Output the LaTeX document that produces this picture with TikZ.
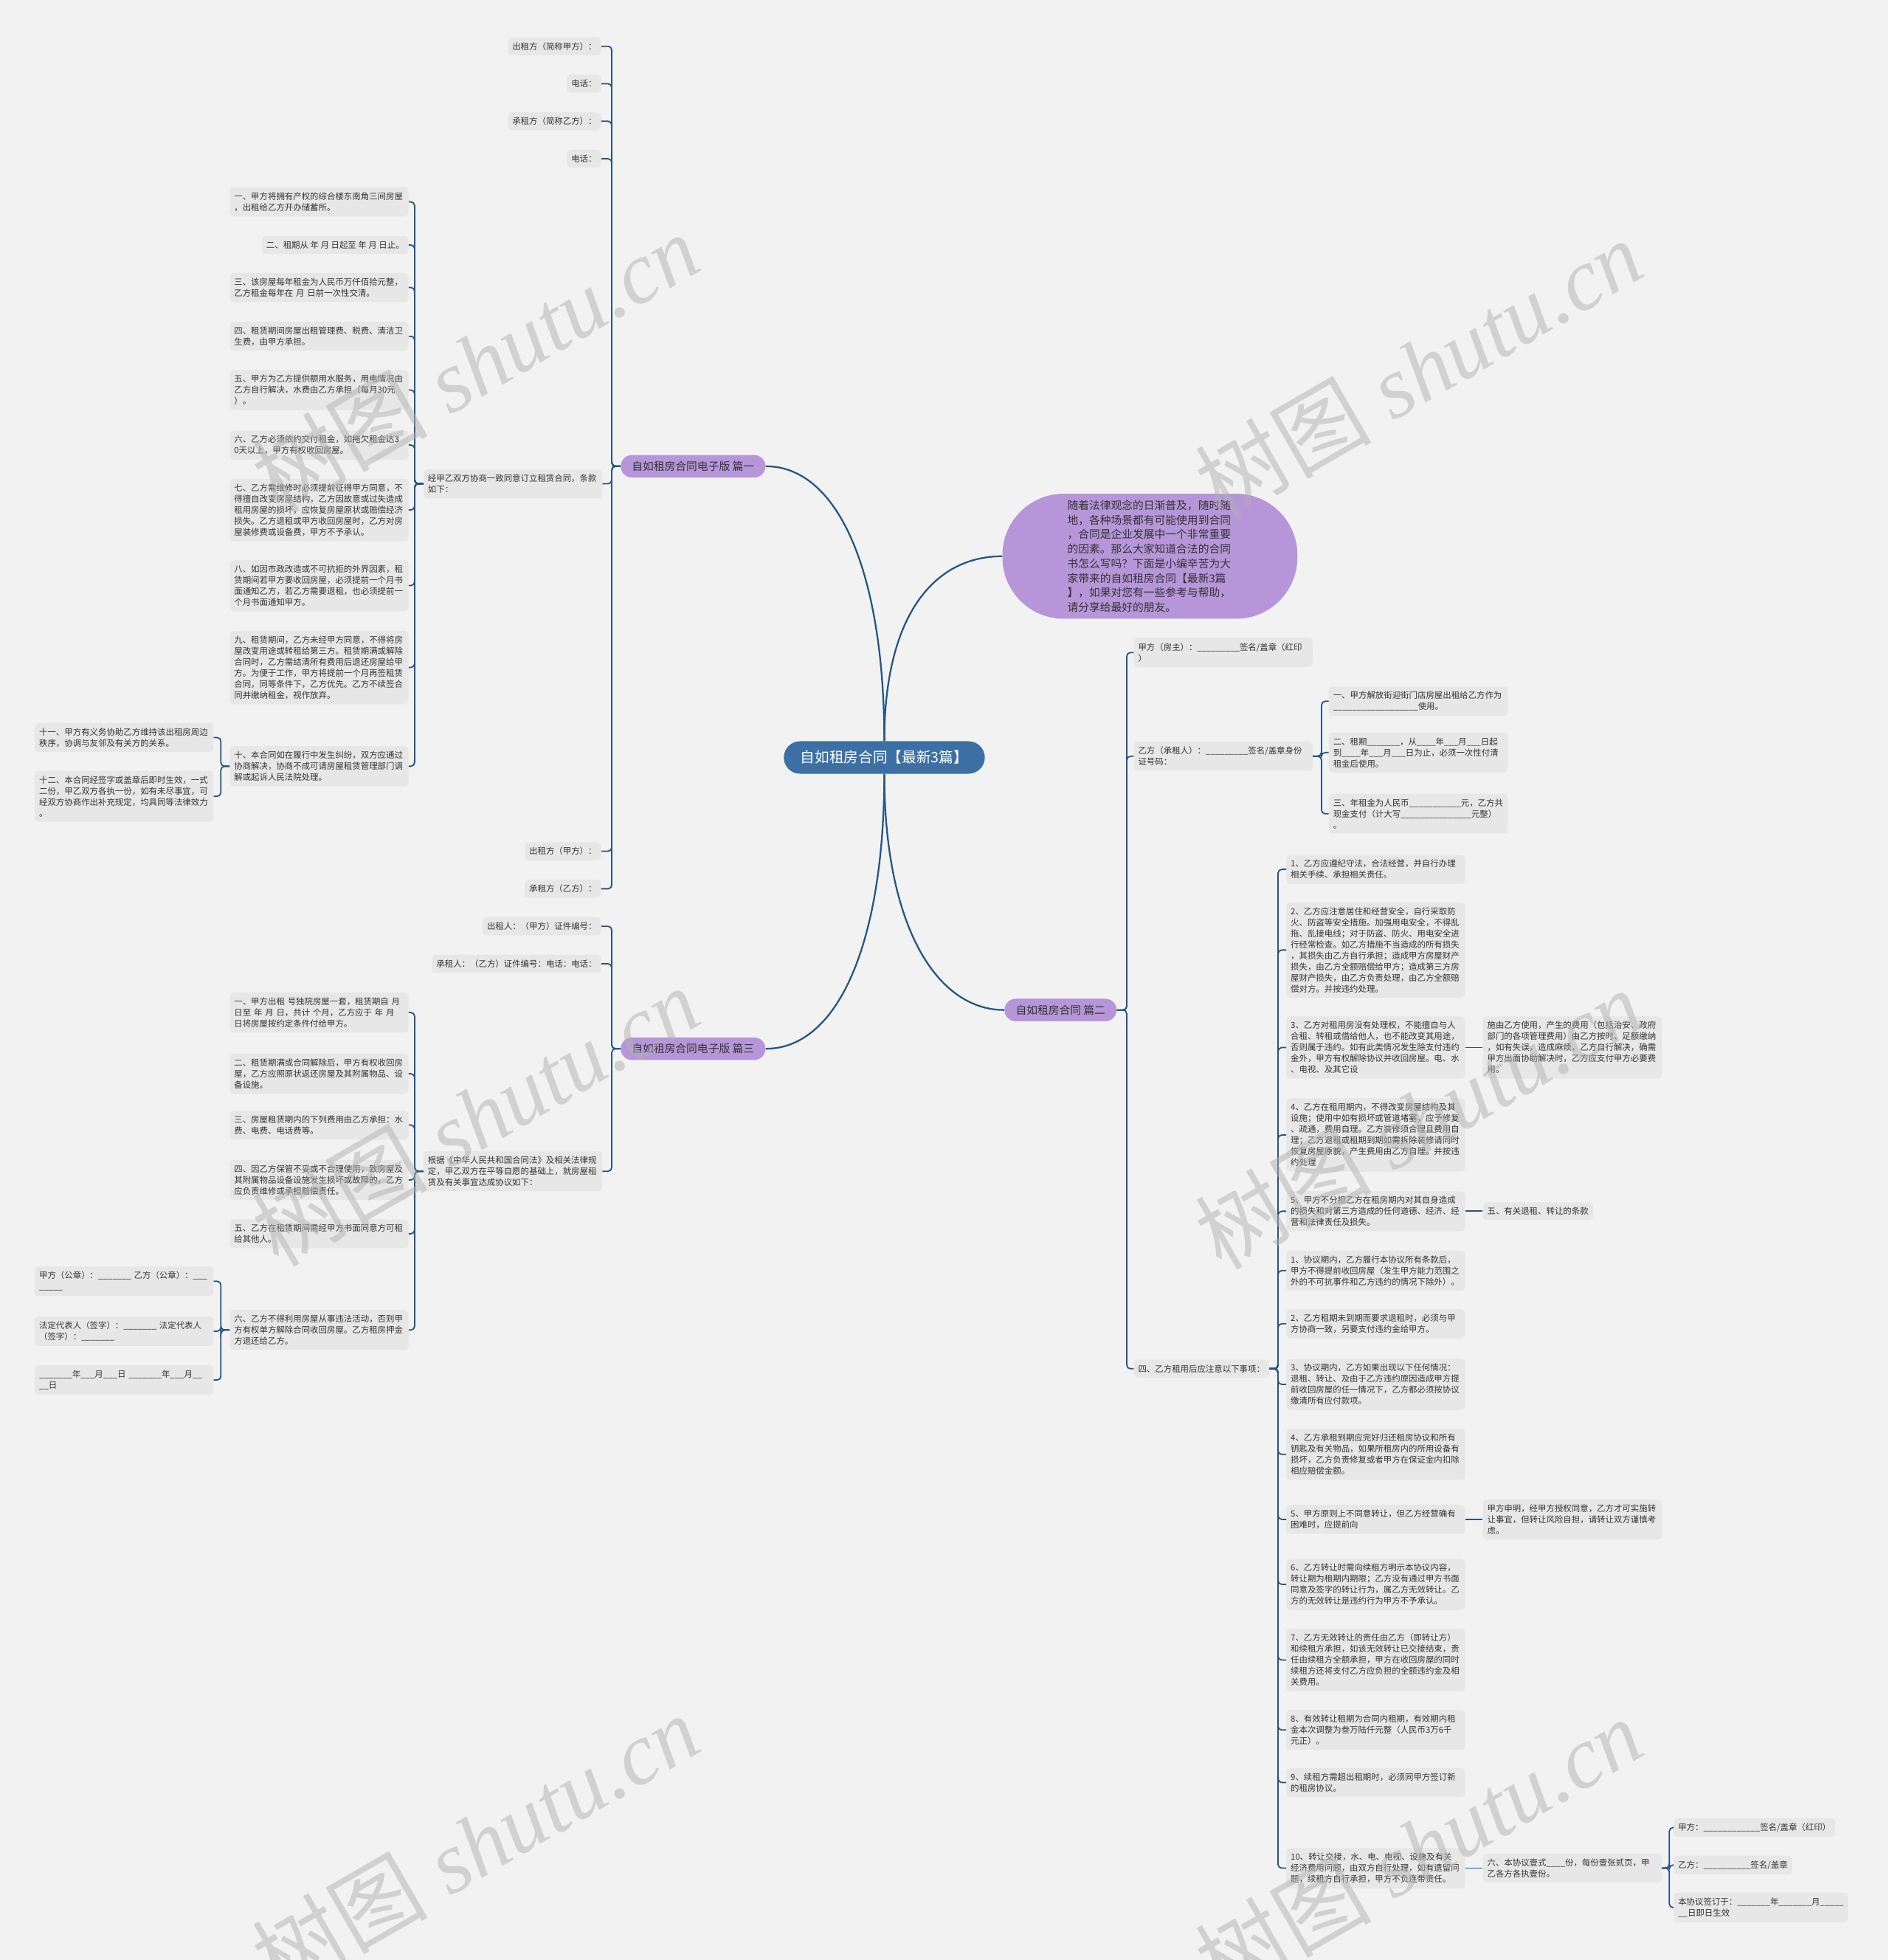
\documentclass[tikz,border=0pt]{standalone}
\usepackage{fontspec}
\setmainfont{Noto Sans CJK SC}
\newfontfamily\wmfont{Liberation Serif}
\newfontfamily\wmcjk{Noto Sans CJK SC}
\usepackage{xcolor}
\usetikzlibrary{positioning}

\definecolor{bgc}{HTML}{F2F2F2}
\definecolor{leafc}{HTML}{E7E7E7}
\definecolor{linkc}{HTML}{245584}
\definecolor{rootc}{HTML}{3C70A4}
\definecolor{purc}{HTML}{B696D9}
\definecolor{txtc}{HTML}{333333}

\newcommand{\leaffont}{\fontsize{9.6}{12.6}\selectfont}
\newcommand{\rootfont}{\fontsize{16.5}{20}\selectfont}
\newcommand{\branchfont}{\fontsize{12.4}{15}\selectfont}
\newcommand{\introfont}{\fontsize{12.4}{16.6}\selectfont}
\newcommand{\blanks}[1]{\foreach \k in {1,...,#1}{\_}}

\begin{document}
\begin{tikzpicture}[
    x=0.05cm, y=-0.05cm,
    every node/.style={font=\leaffont, text=txtc, inner sep=0pt},
    main/.style={draw=linkc, line width=1.9pt},
    link/.style={draw=linkc, line width=1.5pt, rounded corners=0.15cm},
    leaf/.style={fill=leafc, rounded corners=0.15cm, inner xsep=0.175cm, inner ysep=0.2cm, align=left},
    leafw/.style={leaf, text width=6.8cm},
    root/.style={fill=rootc, text=white, rounded corners=0.65cm, minimum height=1.3cm, inner xsep=0.67cm, font=\rootfont},
    branch/.style={fill=purc, text=txtc, rounded corners=0.45cm, minimum height=0.9cm, inner xsep=0.45cm, font=\branchfont},
    intro/.style={fill=purc, rounded corners=2.45cm, minimum width=11.8cm, minimum height=5cm, text width=6.6cm, align=left, font=\introfont},
    wmark/.style={rotate=30, text=gray!60, opacity=0.5, font=\wmfont\itshape\fontsize{100}{100}\selectfont}
  ]

    % canvas
    \fill[bgc] (0,0) rectangle (1511,1568);
    \useasboundingbox (0,0) rectangle (1511,1568);

    % Root and first level
    \node[root] (cen) at (707.5,606) {自如租房合同【最新3篇】};
    \node[intro] (intro) at (920,445) {随着法律观念的日渐普及，随时随\\地，各种场景都有可能使用到合同\\，合同是企业发展中一个非常重要\\的因素。那么大家知道合法的合同\\书怎么写吗？下面是小编辛苦为大\\家带来的自如租房合同【最新3篇\\】，如果对您有一些参考与帮助，\\请分享给最好的朋友。};
    \node[branch] (p1) at (554.5,373) {自如租房合同电子版 篇一};
    \node[branch] (p3) at (554.5,839) {自如租房合同电子版 篇三};
    \node[branch] (p2) at (848.5,808) {自如租房合同 篇二};

    \draw[main] (cen.north) .. controls +(0,-130) and +(60,0) .. (p1.east);
    \draw[main] (cen.north) .. controls +(0,-100) and +(-55,0) .. (intro.west);
    \draw[main] (cen.south) .. controls +(0,130) and +(60,0) .. (p3.east);
    \draw[main] (cen.south) .. controls +(0,120) and +(-55,0) .. (p2.west);

    % 篇一
    \node[leaf, anchor=east] (p1a) at (481,37) {出租方（简称甲方）：};
    \node[leaf, anchor=east] (p1b) at (481,67) {电话：};
    \node[leaf, anchor=east] (p1c) at (481,97) {承租方（简称乙方）：};
    \node[leaf, anchor=east] (p1d) at (481,127) {电话：};
    \node[leafw, anchor=east] (p1e) at (482,387) {经甲乙双方协商一致同意订立租赁合同，条款\\如下：};
    \node[leaf, anchor=east] (p1f) at (481,681) {出租方（甲方）：};
    \node[leaf, anchor=east] (p1g) at (481,711) {承租方（乙方）：};
    \foreach \c in {p1a,p1b,p1c,p1d,p1e,p1f,p1g}
      \draw[link] (p1.west) -- ++(-7,0) |- (\c.east);

    \node[leafw, anchor=east] (t1) at (327,161.5) {一、甲方将拥有产权的综合楼东南角三间房屋\\，出租给乙方开办储蓄所。};
    \node[leaf, anchor=east] (t2) at (327,196) {二、租期从 年 月 日起至 年 月 日止。};
    \node[leafw, anchor=east] (t3) at (327,230) {三、该房屋每年租金为人民币万仟佰拾元整，\\乙方租金每年在 月 日前一次性交清。};
    \node[leafw, anchor=east] (t4) at (327,269) {四、租赁期间房屋出租管理费、税费、清洁卫\\生费，由甲方承担。};
    \node[leafw, anchor=east] (t5) at (327,312) {五、甲方为乙方提供额用水服务，用电情况由\\乙方自行解决，水费由乙方承担（每月30元\\）。};
    \node[leafw, anchor=east] (t6) at (327,356) {六、乙方必须依约交付租金，如拖欠租金达3\\0天以上，甲方有权收回房屋。};
    \node[leafw, anchor=east] (t7) at (327,408) {七、乙方需维修时必须提前征得甲方同意，不\\得擅自改变房屋结构，乙方因故意或过失造成\\租用房屋的损坏，应恢复房屋原状或赔偿经济\\损失。乙方退租或甲方收回房屋时，乙方对房\\屋装修费或设备费，甲方不予承认。};
    \node[leafw, anchor=east] (t8) at (327,468.5) {八、如因市政改造或不可抗拒的外界因素，租\\赁期间若甲方要收回房屋，必须提前一个月书\\面通知乙方，若乙方需要退租，也必须提前一\\个月书面通知甲方。};
    \node[leafw, anchor=east] (t9) at (327,534) {九、租赁期间，乙方未经甲方同意，不得将房\\屋改变用途或转租给第三方。租赁期满或解除\\合同时，乙方需结清所有费用后退还房屋给甲\\方。为便于工作，甲方将提前一个月再签租赁\\合同，同等条件下，乙方优先。乙方不续签合\\同并缴纳租金，视作放弃。};
    \node[leafw, anchor=east] (t10) at (327,613) {十、本合同如在履行中发生纠纷，双方应通过\\协商解决，协商不成可请房屋租赁管理部门调\\解或起诉人民法院处理。};
    \foreach \c in {t1,t2,t3,t4,t5,t6,t7,t8,t9,t10}
      \draw[link] (p1e.west) -- ++(-7,0) |- (\c.east);

    \node[leafw, anchor=east] (t11) at (171,590) {十一、甲方有义务协助乙方维持该出租房周边\\秩序，协调与友邻及有关方的关系。};
    \node[leafw, anchor=east] (t12) at (171,637) {十二、本合同经签字或盖章后即时生效，一式\\二份，甲乙双方各执一份，如有未尽事宜，可\\经双方协商作出补充规定，均具同等法律效力\\。};
    \foreach \c in {t11,t12}
      \draw[link] (t10.west) -- ++(-7,0) |- (\c.east);

    % 篇三
    \node[leaf, anchor=east] (p3a) at (481,741) {出租人：（甲方）证件编号：};
    \node[leaf, anchor=east] (p3b) at (481,771) {承租人：（乙方）证件编号：电话：电话：};
    \node[leafw, anchor=east] (p3c) at (482,937) {根据《中华人民共和国合同法》及相关法律规\\定，甲乙双方在平等自愿的基础上，就房屋租\\赁及有关事宜达成协议如下：};
    \foreach \c in {p3a,p3b,p3c}
      \draw[link] (p3.west) -- ++(-7,0) |- (\c.east);

    \node[leafw, anchor=east] (s1) at (327,810) {一、甲方出租 号独院房屋一套，租赁期自 月\\日至 年 月 日，共计 个月，乙方应于 年 月\\日将房屋按约定条件付给甲方。};
    \node[leafw, anchor=east] (s2) at (327,859) {二、租赁期满或合同解除后，甲方有权收回房\\屋，乙方应照原状返还房屋及其附属物品、设\\备设施。};
    \node[leafw, anchor=east] (s3) at (327,900) {三、房屋租赁期内的下列费用由乙方承担：水\\费、电费、电话费等。};
    \node[leafw, anchor=east] (s4) at (327,944) {四、因乙方保管不妥或不合理使用，致房屋及\\其附属物品设备设施发生损坏或故障的，乙方\\应负责维修或承担赔偿责任。};
    \node[leafw, anchor=east] (s5) at (327,987) {五、乙方在租赁期间需经甲方书面同意方可租\\给其他人。};
    \node[leafw, anchor=east] (s6) at (327,1064) {六、乙方不得利用房屋从事违法活动，否则甲\\方有权单方解除合同收回房屋。乙方租房押金\\方退还给乙方。};
    \foreach \c in {s1,s2,s3,s4,s5,s6}
      \draw[link] (p3c.west) -- ++(-7,0) |- (\c.east);

    \node[leafw, anchor=east] (u1) at (171,1025) {甲方（公章）：\blanks{7}~乙方（公章）：\blanks{3}\\\blanks{5}};
    \node[leafw, anchor=east] (u2) at (171,1065) {法定代表人（签字）：\blanks{7}~法定代表人\\（签字）：\blanks{7}};
    \node[leafw, anchor=east] (u3) at (171,1104) {\blanks{7}年\blanks{3}月\blanks{3}日~\blanks{7}年\blanks{3}月\blanks{2}\\\blanks{2}日};
    \foreach \c in {u1,u2,u3}
      \draw[link] (s6.west) -- ++(-7,0) |- (\c.east);

    % 篇二
    \node[leafw, anchor=west] (p2a) at (907,522) {甲方（房主）：\blanks{9}签名/盖章（红印\\）};
    \node[leafw, anchor=west] (p2b) at (907,605) {乙方（承租人）：\blanks{9}签名/盖章身份\\证号码：};
    \node[leaf, anchor=west] (p2c) at (907,1095) {四、乙方租用后应注意以下事项：};
    \foreach \c in {p2a,p2b,p2c}
      \draw[link] (p2.east) -- ++(8,0) |- (\c.west);

    \node[leafw, anchor=west] (b1) at (1063,561) {一、甲方解放街迎街门店房屋出租给乙方作为\\\blanks{18}使用。};
    \node[leafw, anchor=west] (b2) at (1063,602) {二、租期\blanks{7}，从\blanks{4}年\blanks{3}月\blanks{3}日起\\到\blanks{4}年\blanks{3}月\blanks{3}日为止，必须一次性付清\\租金后使用。};
    \node[leafw, anchor=west] (b3) at (1063,651) {三、年租金为人民币\blanks{11}元，乙方共\\现金支付（计大写\blanks{15}元整）\\。};
    \foreach \c in {b1,b2,b3}
      \draw[link] (p2b.east) -- ++(7,0) |- (\c.west);

    \node[leafw, anchor=west] (c1) at (1029,695.5) {1、乙方应遵纪守法，合法经营，并自行办理\\相关手续、承担相关责任。};
    \node[leafw, anchor=west] (c2) at (1029,760) {2、乙方应注意居住和经营安全，自行采取防\\火、防盗等安全措施。加强用电安全，不得乱\\拖、乱接电线；对于防盗、防火、用电安全进\\行经常检查。如乙方措施不当造成的所有损失\\，其损失由乙方自行承担；造成甲方房屋财产\\损失，由乙方全额赔偿给甲方；造成第三方房\\屋财产损失，由乙方负责处理，由乙方全额赔\\偿对方。并按违约处理。};
    \node[leafw, anchor=west] (c3) at (1029,838) {3、乙方对租用房没有处理权，不能擅自与人\\合租、转租或借给他人，也不能改变其用途，\\否则属于违约。如有此类情况发生除支付违约\\金外，甲方有权解除协议并收回房屋。电、水\\、电视、及其它设};
    \node[leafw, anchor=west] (c4) at (1029,908) {4、乙方在租用期内，不得改变房屋结构及其\\设施；使用中如有损坏或管道堵塞，应予修复\\、疏通，费用自理。乙方装修须合理且费用自\\理；乙方退租或租期到期如需拆除装修请同时\\恢复房屋原貌，产生费用由乙方自理。并按违\\约处理};
    \node[leafw, anchor=west] (c5) at (1029,969) {5、甲方不分担乙方在租房期内对其自身造成\\的损失和对第三方造成的任何道德、经济、经\\营和法律责任及损失。};
    \node[leafw, anchor=west] (d1) at (1029,1016.5) {1、协议期内，乙方履行本协议所有条款后，\\甲方不得提前收回房屋（发生甲方能力范围之\\外的不可抗事件和乙方违约的情况下除外）。};
    \node[leafw, anchor=west] (d2) at (1029,1059) {2、乙方租期未到期而要求退租时，必须与甲\\方协商一致，另要支付违约金给甲方。};
    \node[leafw, anchor=west] (d3) at (1029,1107.5) {3、协议期内，乙方如果出现以下任何情况：\\退租、转让、及由于乙方违约原因造成甲方提\\前收回房屋的任一情况下，乙方都必须按协议\\缴清所有应付款项。};
    \node[leafw, anchor=west] (d4) at (1029,1163.5) {4、乙方承租到期应完好归还租房协议和所有\\钥匙及有关物品，如果所租房内的所用设备有\\损坏，乙方负责修复或者甲方在保证金内扣除\\相应赔偿金额。};
    \node[leafw, anchor=west] (d5) at (1029,1215.5) {5、甲方原则上不同意转让，但乙方经营确有\\困难时，应提前向};
    \node[leafw, anchor=west] (d6) at (1029,1267.5) {6、乙方转让时需向续租方明示本协议内容，\\转让期为租期内期限；乙方没有通过甲方书面\\同意及签字的转让行为，属乙方无效转让。乙\\方的无效转让是违约行为甲方不予承认。};
    \node[leafw, anchor=west] (d7) at (1029,1328) {7、乙方无效转让的责任由乙方（即转让方）\\和续租方承担，如该无效转让已交接结束，责\\任由续租方全额承担，甲方在收回房屋的同时\\续租方还将支付乙方应负担的全额违约金及相\\关费用。};
    \node[leafw, anchor=west] (d8) at (1029,1384) {8、有效转让租期为合同内租期，有效期内租\\金本次调整为叁万陆仟元整（人民币3万6千\\元正）。};
    \node[leafw, anchor=west] (d9) at (1029,1426) {9、续租方需超出租期时，必须同甲方签订新\\的租房协议。};
    \node[leafw, anchor=west] (d10) at (1029,1494.5) {10、转让交接，水、电、电视、设施及有关\\经济费用问题，由双方自行处理，如有遗留问\\题，续租方自行承担，甲方不负连带责任。};
    \foreach \c in {c1,c2,c3,c4,c5,d1,d2,d3,d4,d5,d6,d7,d8,d9,d10}
      \draw[link] (p2c.east) -- ++(7,0) |- (\c.west);

    % single children on the right
    \node[leafw, right=0.7cm of c3] (c3n) {施由乙方使用，产生的费用（包括治安、政府\\部门的各项管理费用）由乙方按时、足额缴纳\\，如有失误，造成麻烦，乙方自行解决，确需\\甲方出面协助解决时，乙方应支付甲方必要费\\用。};
    \node[leaf, right=0.7cm of c5] (c5n) {五、有关退租、转让的条款};
    \node[leafw, right=0.7cm of d5] (d5n) {甲方申明，经甲方授权同意，乙方才可实施转\\让事宜，但转让风险自担，请转让双方谨慎考\\虑。};
    \node[leafw, right=0.7cm of d10] (d10n) {六、本协议壹式\blanks{4}份，每份壹张贰页，甲\\乙各方各执壹份。};
    \draw[link] (c3.east) -- (c3n.west);
    \draw[link] (c5.east) -- (c5n.west);
    \draw[link] (d5.east) -- (d5n.west);
    \draw[link] (d10.east) -- (d10n.west);

    \node[leaf, anchor=west] (e1) at (1339,1462) {甲方：\blanks{12}签名/盖章（红印）};
    \node[leaf, anchor=west] (e2) at (1339,1492) {乙方：\blanks{10}签名/盖章};
    \node[leaf, anchor=west] (e3) at (1339,1526) {本协议签订于：\blanks{7}年\blanks{7}月\blanks{5}\\\blanks{2}日即日生效};
    \foreach \c in {e1,e2,e3}
      \draw[link] (d10n.east) -- ++(6,0) |- (\c.west);

    % watermarks
    \foreach \wx/\wy [count=\i] in {380/290, 1135/295, 380/893, 1135/895, 380/1475, 1135/1478}
      \node[wmark] (wm\i) at (\wx,\wy) {{\wmcjk\upshape 树图} shutu.cn};

  \end{tikzpicture}
\end{document}
